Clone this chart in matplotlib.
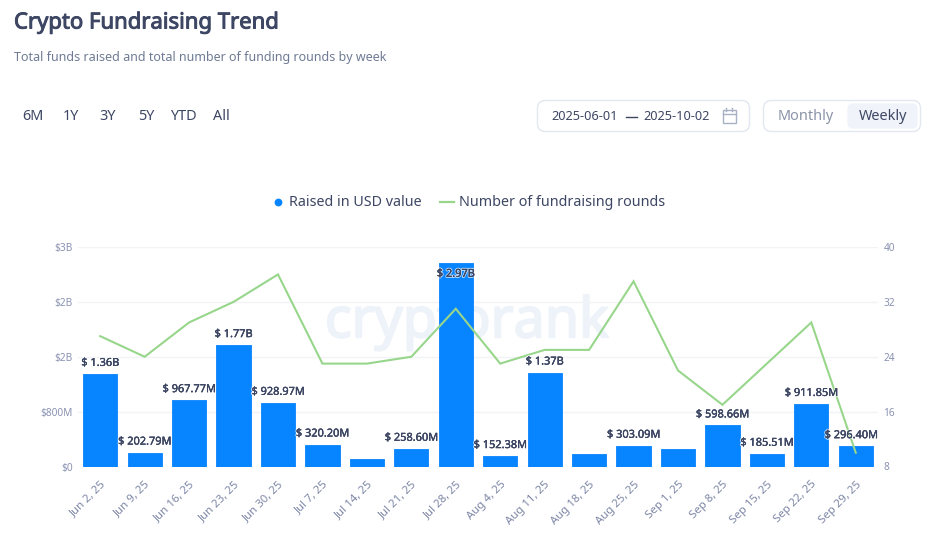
import matplotlib
matplotlib.use("Agg")
import matplotlib.pyplot as plt
from matplotlib.patches import FancyBboxPatch, Rectangle
import matplotlib.patheffects as pe

plt.rcParams['font.family'] = ['Noto Sans', 'DejaVu Sans']

W, H = 927, 541
weeks = ["Jun 2, 25", "Jun 9, 25", "Jun 16, 25", "Jun 23, 25", "Jun 30, 25", "Jul 7, 25",
         "Jul 14, 25", "Jul 21, 25", "Jul 28, 25", "Aug 4, 25", "Aug 11, 25", "Aug 18, 25",
         "Aug 25, 25", "Sep 1, 25", "Sep 8, 25", "Sep 15, 25", "Sep 22, 25", "Sep 29, 25"]
raised_musd = [1350, 202.79, 967.77, 1770, 928.97, 320.20, 110, 258.60, 2970, 152.38,
               1370, 180, 303.09, 250, 598.66, 185.51, 911.85, 296.40]
bar_labels = ["$ 1.36B", "$ 202.79M", "$ 967.77M", "$ 1.77B", "$ 928.97M", "$ 320.20M", "",
              "$ 258.60M", "$ 2.97B", "$ 152.38M", "$ 1.37B", "", "$ 303.09M", "",
              "$ 598.66M", "$ 185.51M", "$ 911.85M", "$ 296.40M"]
rounds = [27, 24, 29, 32, 36, 23, 23, 24, 31, 23, 25, 25, 35, 22, 17, 23, 29, 10]
left_ticks = [0, 800, 1600, 2400, 3200]
left_tick_labels = ["$0", "$800M", "$2B", "$2B", "$3B"]
right_ticks = [8, 16, 24, 32, 40]
range_buttons = ["6M", "1Y", "3Y", "5Y", "YTD", "All"]

fig = plt.figure(figsize=(W / 100, H / 100), dpi=100, facecolor="white")
bg = fig.add_axes([0, 0, 1, 1])
bg.set_xlim(0, W); bg.set_ylim(H, 0); bg.axis("off")

DARK = "#3d4663"
bg.text(14, 23, "Crypto Fundraising Trend", fontsize=15.9, color=DARK, va="center",
        path_effects=[pe.withStroke(linewidth=0.7, foreground=DARK)])
bg.text(14, 57, "Total funds raised and total number of funding rounds by week", fontsize=9.0, color="#6f7a94", va="center")
for x, s in zip([33, 70.5, 108, 146, 183.5, 221.5], range_buttons):
    bg.text(x, 117, s, fontsize=10.4, color=DARK, ha="center", va="center")

def box(x0, y0, x1, y1, fc="white", ec="#e3e7f0", r=8):
    bg.add_patch(FancyBboxPatch((x0 + r, y0 + r), x1 - x0 - 2 * r, y1 - y0 - 2 * r,
                                boxstyle=f"round,pad={r},rounding_size={r}", fc=fc, ec=ec, lw=1))

box(537.5, 100.5, 749.5, 131.5)
box(763.5, 100.5, 920.5, 131.5)
box(848, 104, 917, 128, fc="#f0f4fa", ec="#f0f4fa", r=5)
bg.text(585, 117, "2025-06-01", fontsize=9.2, color=DARK, ha="center", va="center")
bg.text(677, 117, "2025-10-02", fontsize=9.2, color=DARK, ha="center", va="center")
bg.plot([626, 637], [116.5, 116.5], color=DARK, lw=1)
bg.add_patch(Rectangle((723, 110), 13, 13, fc="none", ec="#a9b1c4", lw=1))
bg.plot([723, 736], [113.5, 113.5], color="#a9b1c4", lw=1)
bg.plot([726.5, 726.5], [108, 111], color="#a9b1c4", lw=1)
bg.plot([732.5, 732.5], [108, 111], color="#a9b1c4", lw=1)
bg.text(805.5, 117, "Monthly", fontsize=10.4, color="#8a93a8", ha="center", va="center")
bg.text(883, 117, "Weekly", fontsize=10.4, color=DARK, ha="center", va="center")

bg.plot([278.5], [202], "o", color="#0784ff", ms=5.6, mew=0)
bg.text(289, 203, "Raised in USD value", fontsize=10.3, color=DARK, va="center")
bg.plot([440, 454], [202, 202], color="#97d68b", lw=1.6)
bg.text(459, 203, "Number of fundraising rounds", fontsize=10.3, color=DARK, va="center")

ax_left, ax_right, ax_top, ax_bot = 78, 878, 247, 466.5
ax = fig.add_axes([ax_left / W, 1 - ax_bot / H, (ax_right - ax_left) / W, (ax_bot - ax_top) / H])
ax.patch.set_alpha(0)
for s in ax.spines.values():
    s.set_visible(False)
xs = list(range(len(weeks)))
ax.set_xlim(-0.5, len(weeks) - 0.5)
ax.set_ylim(0, 3200)
ax.set_yticks(left_ticks, left_tick_labels)
ax.tick_params(axis="y", length=0, labelsize=7.3, labelcolor="#8a92b2", pad=4)
ax.set_xticks(xs, weeks, rotation=45, ha="right", rotation_mode="anchor")
ax.tick_params(axis="x", length=0, labelsize=8.2, labelcolor="#7d86a6", pad=9)
ax.grid(axis="y", color="#f1f3f7", lw=1)
ax.set_axisbelow(True)
ax.text(0.486, 0.655, "cryptorank", transform=ax.transAxes, fontsize=40, fontweight="normal",
        color="#eef3fa", ha="center", va="center", zorder=0.5,
        path_effects=[pe.withStroke(linewidth=1.5, foreground="#eef3fa")])

ax.bar(xs, raised_musd, width=0.77, color="#0784ff", edgecolor="#0784ff", lw=0.6, joinstyle="round", zorder=2)

ax2 = ax.twinx()
ax2.patch.set_alpha(0)
for s in ax2.spines.values():
    s.set_visible(False)
ax2.set_xlim(ax.get_xlim())
ax2.set_ylim(8, 40)
ax2.set_yticks(right_ticks)
ax2.tick_params(axis="y", length=0, labelsize=7.3, labelcolor="#8a92b2", pad=4)
ax2.plot(xs, rounds, color="#97d68b", lw=1.5, zorder=3, solid_joinstyle="miter")

for x, v, s in zip(xs, raised_musd, bar_labels):
    if not s:
        continue
    dx, dy = 0, 5
    if s == "$ 2.97B":
        dy = -17
    if s == "$ 296.40M":
        dx = -4.5
    ax2.annotate(s, xy=(x, v / 3200 * 32 + 8), xytext=(dx, dy), textcoords="offset pixels",
                 ha="center", va="bottom", fontsize=7.9, color=DARK, zorder=5,
                 path_effects=[pe.withStroke(linewidth=1.6, foreground="white", alpha=0.7),
                               pe.withStroke(linewidth=0.15, foreground=DARK)])

fig.savefig("out.png", dpi=100, facecolor="white")
